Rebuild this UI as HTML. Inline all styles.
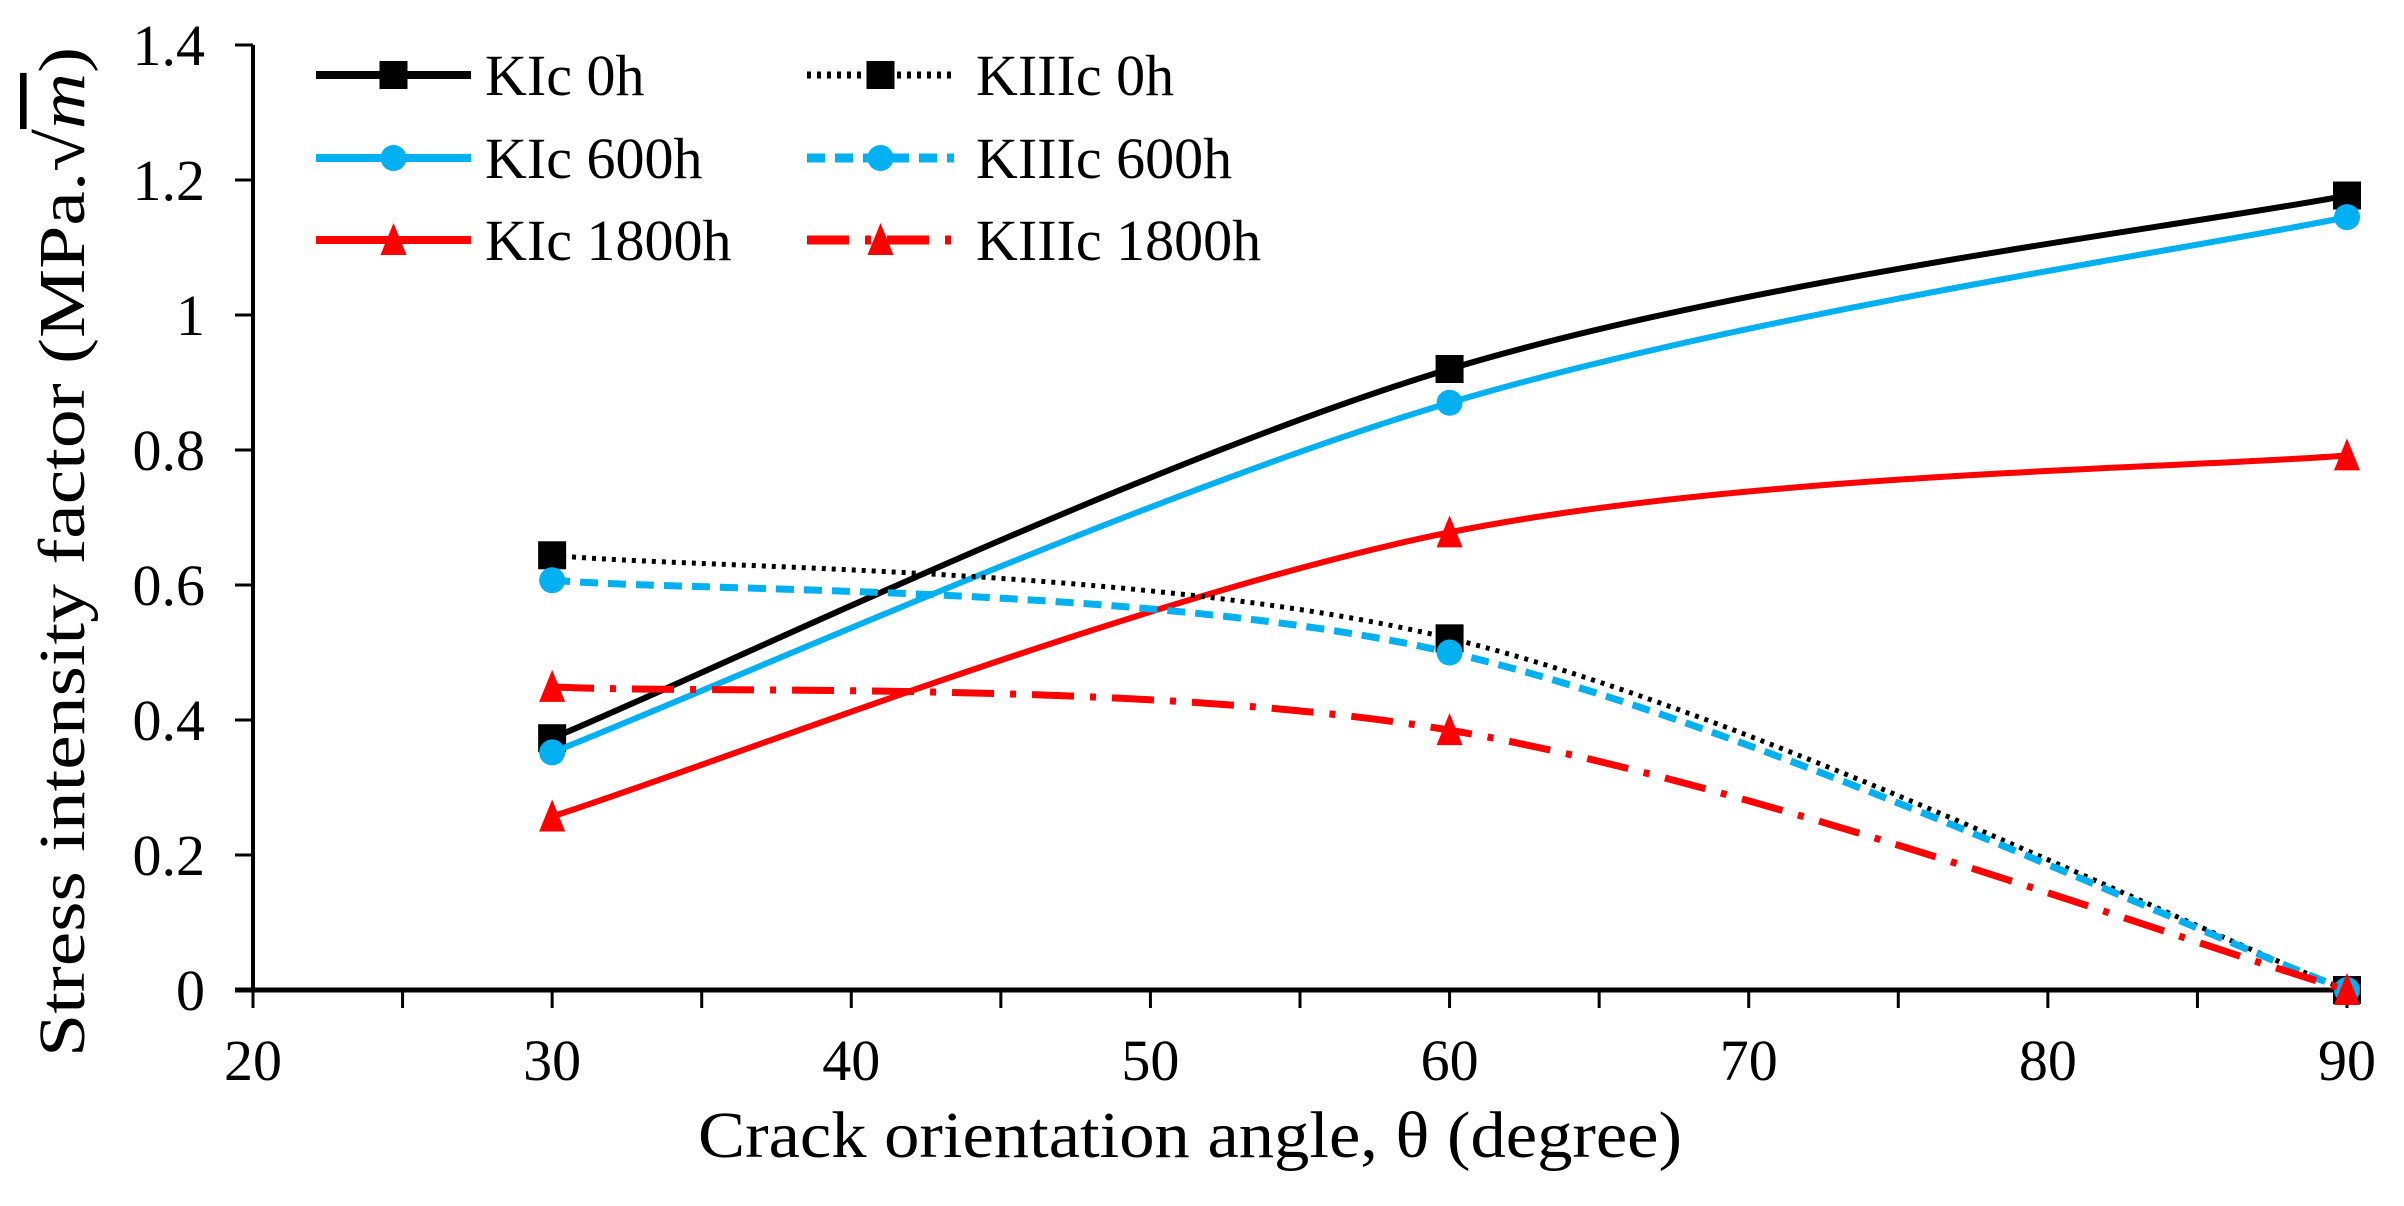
<!DOCTYPE html>
<html><head><meta charset="utf-8"><style>
html,body{margin:0;padding:0;background:#fff;}
svg{display:block;font-family:"Liberation Serif",serif;}
</style></head><body>
<svg id="chart" width="2404" height="1206" viewBox="0 0 2404 1206" xmlns="http://www.w3.org/2000/svg">
<rect width="2404" height="1206" fill="#fff"/>
<g id="grid"></g>
<g id="series"></g>
<g id="legend"></g>
<text x="1190" y="1157" font-size="66" text-anchor="middle" textLength="984" lengthAdjust="spacingAndGlyphs" fill="#000">Crack orientation angle, θ  (degree)</text>
<text transform="translate(84,552) rotate(-90)" font-size="66" text-anchor="middle" textLength="1010" lengthAdjust="spacingAndGlyphs" fill="#000">Stress intensity factor (MPa.√<tspan font-style="italic" text-decoration="overline">m</tspan>)</text>
</svg>
<script>
const categories=[30,60,90];
const kic0=[0.373,0.92,1.177];
const kic600=[0.352,0.87,1.145];
const kic1800=[0.257,0.678,0.792];
const kiiic0=[0.644,0.521,0];
const kiiic600=[0.607,0.5,0];
const kiiic1800=[0.449,0.385,0];
const xTicks=[20,30,40,50,60,70,80,90];
const yTicks=[0,0.2,0.4,0.6,0.8,1,1.2,1.4];
const yTickLabels=["0","0.2","0.4","0.6","0.8","1","1.2","1.4"];

const X0=253,X1=2347,Y0=990,Y1=45;
const xs=v=>X0+(v-20)/70*(X1-X0);
const ys=v=>Y0-v/1.4*(Y0-Y1);
const NS="http://www.w3.org/2000/svg";
function mk(tag,attrs,parent){const e=document.createElementNS(NS,tag);for(const k in attrs)e.setAttribute(k,attrs[k]);parent.appendChild(e);return e;}
const grid=document.getElementById('grid');
let ya=mk('line',{x1:X0,y1:Y1,x2:X0,y2:Y0+2,stroke:'#000','stroke-width':4},grid);


yTicks.forEach((t,i)=>{
  let l=mk('line',{x1:X0-18,y1:ys(t),x2:X0,y2:ys(t),stroke:'#000','stroke-width':3},grid);
  
  
  let tx=mk('text',{x:205,y:ys(t)+20,'font-size':58,'text-anchor':'end',fill:'#000'},grid);
  tx.textContent=yTickLabels[i];
  
  
});
for(let v=20;v<=90;v+=5){
  let l=mk('line',{x1:xs(v),y1:Y0,x2:xs(v),y2:Y0+18,stroke:'#000','stroke-width':3},grid);
  
  
}
xTicks.forEach(t=>{
  let tx=mk('text',{x:xs(t),y:1080,'font-size':58,'text-anchor':'middle',fill:'#000'},grid);
  tx.textContent=String(t);
  
  
});
let xa=mk('line',{x1:X0-18,y1:Y0,x2:X1,y2:Y0,stroke:'#000','stroke-width':5},grid);



function smoothPath(vals){
  const p=categories.map((c,i)=>[xs(c),ys(vals[i])]);
  let d=`M${p[0][0]},${p[0][1]}`;
  for(let i=0;i<p.length-1;i++){
    const a=p[i-1]||p[i],b=p[i],c=p[i+1],e=p[i+2]||p[i+1];
    const c1=[b[0]+(c[0]-a[0])/6,b[1]+(c[1]-a[1])/6];
    const c2=[c[0]-(e[0]-b[0])/6,c[1]-(e[1]-b[1])/6];
    d+=` C${c1[0]},${c1[1]} ${c2[0]},${c2[1]} ${c[0]},${c[1]}`;
  }
  return d;
}
function marker(type,x,y,color,parent){
  if(type==='sq') return mk('rect',{x:x-14,y:y-14,width:28,height:28,fill:color},parent);
  if(type==='ci') return mk('circle',{cx:x,cy:y,r:13,fill:color},parent);
  return mk('polygon',{points:`${x},${y-17} ${x+13},${y+15} ${x-13},${y+15}`,fill:color},parent);
}
const series=[
 {name:'KIc 0h',vals:kic0,color:'#000',dash:'',m:'sq',w:6,id:'kic-0h'},
 {name:'KIc 600h',vals:kic600,color:'#00b0f0',dash:'',m:'ci',w:6,id:'kic-600h'},
 {name:'KIc 1800h',vals:kic1800,color:'#ff0000',dash:'',m:'tr',w:6,id:'kic-1800h'},
 {name:'KIIIc 0h',vals:kiiic0,color:'#000',dash:'4 6',m:'sq',w:5,id:'kiiic-0h'},
 {name:'KIIIc 600h',vals:kiiic600,color:'#00b0f0',dash:'18 10',m:'ci',w:7,id:'kiiic-600h'},
 {name:'KIIIc 1800h',vals:kiiic1800,color:'#ff0000',dash:'42 16 6 16',m:'tr',w:7,id:'kiiic-1800h'}
];
const sg=document.getElementById('series');
series.forEach(s=>{
  const g=mk('g',{},sg);
  
  
  const attrs={d:smoothPath(s.vals),fill:'none',stroke:s.color,'stroke-width':s.w};
  if(s.dash)attrs['stroke-dasharray']=s.dash;
  const path=mk('path',attrs,g);
  
  
  categories.forEach((c,i)=>{
    const m=marker(s.m,xs(c),ys(s.vals[i]),s.color,g);
    
    
  });
});
const lg=document.getElementById('legend');
const rows=[75,158,240];
series.forEach((s,i)=>{
  const col=i<3?0:1,row=i%3;
  const lx0=col?807:316,lx1=col?954:471,tx=col?976:485,y=rows[row];
  const g=mk('g',{},lg);
  
  
  const attrs={x1:lx0,y1:y,x2:lx1,y2:y,stroke:s.color,'stroke-width':s.w+2};
  if(s.dash)attrs['stroke-dasharray']=s.dash;
  mk('line',attrs,g);
  marker(s.m,(lx0+lx1)/2,y,s.color,g);
  const t=mk('text',{x:tx,y:y+20,'font-size':58,fill:'#000'},g);
  t.textContent=s.name;
});
</script>
</body></html>
